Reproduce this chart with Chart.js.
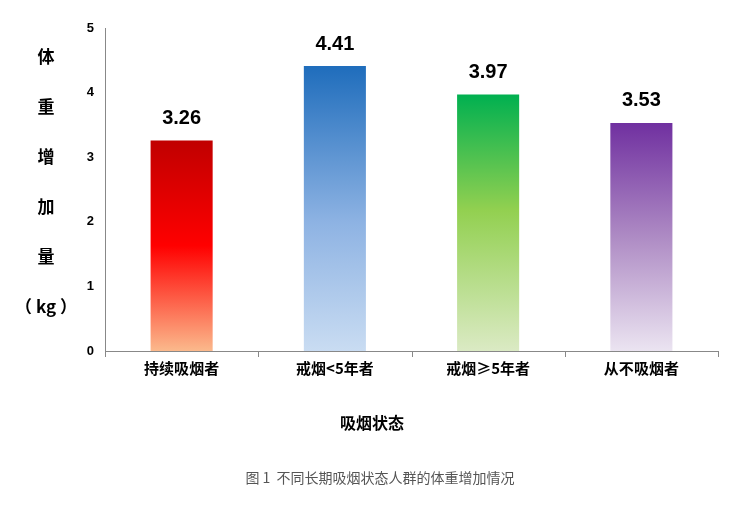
<!DOCTYPE html>
<html><head><meta charset="utf-8">
<script src="https://cdn.jsdelivr.net/npm/chart.js@4"></script>
<style>html,body{margin:0;padding:0;background:#fff}#w{width:739px;height:517px}</style>
</head><body><div id="w"><canvas id="c"></canvas></div>
<script>
const categories = ["持续吸烟者","戒烟<5年者","戒烟≥5年者","从不吸烟者"];
const values = [3.26, 4.41, 3.97, 3.53];
const yTicks = [0,1,2,3,4,5];
const gradStops = [
  [[0,"#c00000"],[0.5,"#ff0000"],[1,"#fbb98c"]],
  [[0,"#1f6dbc"],[0.55,"#8eb3e3"],[1,"#c9dcf2"]],
  [[0,"#00b050"],[0.45,"#92d050"],[1,"#dbeac4"]],
  [[0,"#7030a0"],[0.5,"#ae8bc4"],[1,"#ebe4f1"]]
];
const font = "'Noto Sans CJK SC', 'DejaVu Sans', sans-serif";
const deco = {
  id:'deco',
  afterDraw(ch){
    const c = ch.ctx, x = ch.scales.x, y = ch.scales.y;
    c.save();
    c.fillStyle = "#000"; c.textAlign = "center"; c.textBaseline = "middle";
    c.font = "bold 20px Arial, 'Liberation Sans', sans-serif";
    ch.getDatasetMeta(0).data.forEach((b,i)=>{ c.fillText(values[i].toFixed(2), b.x, b.y-22); });
    c.font = "bold 17px " + font;
    ["体","重","增","加","量","（ kg ）"].forEach((t,i)=>{ c.fillText(t, 46, 57+i*50); });
    c.font = "bold 16px " + font;
    c.fillText("吸烟状态", 372, 423);
    c.font = "14px " + font; c.fillStyle = "#555";
    c.fillText("图 1  不同长期吸烟状态人群的体重增加情况", 380, 478);
    c.strokeStyle = "#888"; c.lineWidth = 1;
    for (let i=0;i<=4;i++){ const px = Math.round(x.left + i*(x.right-x.left)/4)+0.5; c.beginPath(); c.moveTo(px, y.bottom); c.lineTo(px, y.bottom+6); c.stroke(); }
    c.restore();
  }
};
new Chart(document.getElementById('c'), {
  type:'bar',
  data:{ labels:categories, datasets:[{ data:values, barPercentage:0.81, categoryPercentage:0.5,
    backgroundColor:(ctx)=>{ const a = ctx.chart.chartArea; if(!a) return "#ccc";
      const b = ctx.chart.scales.y; const top = b.getPixelForValue(values[ctx.dataIndex]);
      const g = ctx.chart.ctx.createLinearGradient(0, top, 0, b.bottom);
      gradStops[ctx.dataIndex].forEach(s=>g.addColorStop(s[0], s[1])); return g; } }]},
  options:{ responsive:true, maintainAspectRatio:false, animation:false,
    layout:{ padding:{ top:28, right:21, left:0, bottom:0 } },
    plugins:{ legend:{display:false}, tooltip:{enabled:false} },
    scales:{
      x:{ grid:{ display:false, drawTicks:false }, border:{ color:"#888" },
        ticks:{ color:"#000", padding:8, font:{ family:font, size:15, weight:"bold" } },
        afterFit:s=>{ s.height = 166; } },
      y:{ min:0, max:5, afterBuildTicks:s=>{ s.ticks = yTicks.map(v=>({value:v})); },
        grid:{ display:false, drawTicks:true, tickLength:5, color:"#888" }, border:{ color:"#888" },
        ticks:{ color:"#000", padding:6, font:{ family:"Arial, 'Liberation Sans', sans-serif", size:13, weight:"bold" } },
        afterFit:s=>{ s.width = 105; } }
    } },
  plugins:[deco]
});
</script></body></html>
